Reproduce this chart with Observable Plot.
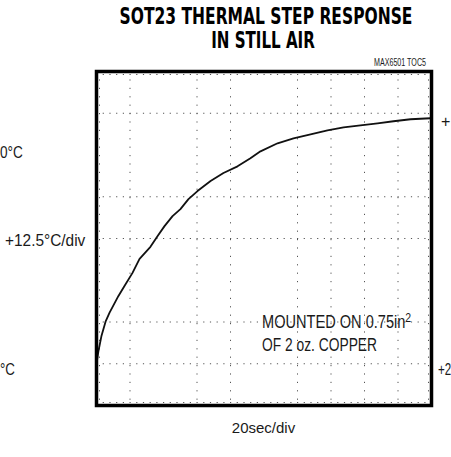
<!DOCTYPE html>
<html>
<head>
<meta charset="utf-8">
<script src="https://cdn.jsdelivr.net/npm/d3@7"></script>
<script src="https://cdn.jsdelivr.net/npm/@observablehq/plot@0.6"></script>
<style>
  html, body { margin: 0; padding: 0; background: #fff; }
  #wrap { position: relative; width: 451px; height: 457px; overflow: hidden; font-family: "Liberation Sans", Arial, sans-serif; color: #1a1a1a; }
  #chart { position: absolute; left: 0; top: 0; }
  .t { position: absolute; white-space: nowrap; line-height: 1; --s: 1; }
  .c { transform: translateX(-50%) scaleX(var(--s)); transform-origin: 50% 50%; }
  .l { transform: scaleX(var(--s)); transform-origin: 0 50%; }
  .r { transform: translateX(-100%) scaleX(var(--s)); transform-origin: 100% 50%; }
  .ttl { font-family: "DejaVu Sans", "Liberation Sans", sans-serif; font-weight: bold; font-size: 22.5px; line-height: 0.95; color: #000; }
</style>
</head>
<body>
<div id="wrap">
  <div id="chart"></div>
  <div class="t c ttl" data-w="293" style="left:265.5px; top:6px;">SOT23 THERMAL STEP RESPONSE</div>
  <div class="t c ttl" data-w="104" style="left:263px; top:30px;">IN STILL AIR</div>
  <div class="t r" data-w="52" style="left:426px; top:57.5px; font-size:10px;">MAX6501 TOC5</div>
  <div class="t l" data-w="23" style="left:0px; top:144.5px; font-size:16px;">0°C</div>
  <div class="t l" data-w="80" style="left:5px; top:232.5px; font-size:16px;">+12.5°C/div</div>
  <div class="t l" data-w="15" style="left:0px; top:361.5px; font-size:16px;">°C</div>
  <div class="t l" data-w="9" style="left:441px; top:113.5px; font-size:16px;">+</div>
  <div class="t l" data-w="13" style="left:437.5px; top:361.5px; font-size:16px;">+2</div>
  <div class="t c" data-w="63" style="left:263.5px; top:419.5px; font-size:15px;">20sec/div</div>
  <div class="t l" data-w="149" style="left:262px; top:313.3px; font-size:18px;">MOUNTED ON 0.75in<span style="font-size:13px; position:relative; top:-6px;">2</span></div>
  <div class="t l" data-w="115" style="left:262px; top:335.8px; font-size:18px;">OF 2 oz. COPPER</div>
</div>
<script>
// Trace (time in s, temperature in °C)
const timeSec = [0, 0.6, 1.2, 3.0, 5.4, 7.8, 13.1, 16.7, 21.5, 25.7, 32.2, 36.4, 40.6, 45.4, 50.1, 54.9, 60.3, 68.1, 75.8, 84.2, 91.9, 97.9, 108.1, 117.6, 127.8, 137.9, 147.5, 157.6, 167.8, 177.3, 187.5, 199.4];
const tempC   = [25.0, 27.0, 28.9, 33.4, 37.6, 40.3, 45.3, 48.3, 52.2, 56.4, 60.0, 63.2, 66.2, 69.2, 71.3, 74.3, 76.7, 79.7, 82.1, 84.1, 86.5, 88.6, 91.0, 92.5, 93.7, 94.9, 95.8, 96.4, 97.0, 97.6, 98.2, 98.5];
// Graticule lines visible in the reference
const xGridSec = [20, 60, 80, 120, 140, 160, 180];
const yGridC = [25, 37.5, 62.5, 75, 100];
const xDomain = [0, 200];
const yDomain = [12.5, 112.5];

const trace = timeSec.map((t, i) => ({t, T: tempC[i]}));

const chart = Plot.plot({
  width: 451,
  height: 457,
  marginLeft: 96,
  marginRight: 20,
  marginTop: 71,
  marginBottom: 52,
  style: {background: "transparent"},
  x: {domain: xDomain, axis: null},
  y: {domain: yDomain, axis: null},
  marks: [
    Plot.ruleY(yGridC, {stroke: "#555", strokeWidth: 1, strokeDasharray: "1.2,5.5"}),
    Plot.ruleX(xGridSec, {stroke: "#555", strokeWidth: 1, strokeDasharray: "1.2,7.2"}),
    Plot.ruleY([yDomain[1]], {dy: 3, stroke: "#555", strokeWidth: 1, strokeDasharray: "1.2,5.5"}),
    Plot.ruleY([yDomain[0]], {dy: -3, stroke: "#555", strokeWidth: 1, strokeDasharray: "1.2,5.5"}),
    Plot.ruleX([xDomain[0]], {dx: 3, stroke: "#555", strokeWidth: 1, strokeDasharray: "1.2,7.2"}),
    Plot.ruleX([xDomain[1]], {dx: -3, stroke: "#555", strokeWidth: 1, strokeDasharray: "1.2,7.2"}),
    Plot.line(trace, {x: "t", y: "T", stroke: "#111", strokeWidth: 1.8}),
    Plot.frame({stroke: "#000", strokeWidth: 3.5})
  ]
});
document.getElementById("chart").appendChild(chart);

// fit each label to the width it has in the reference
document.querySelectorAll(".t[data-w]").forEach(el => {
  const w = el.offsetWidth;
  if (w > 0) el.style.setProperty("--s", (+el.dataset.w / w).toFixed(4));
});
</script>
</body>
</html>
